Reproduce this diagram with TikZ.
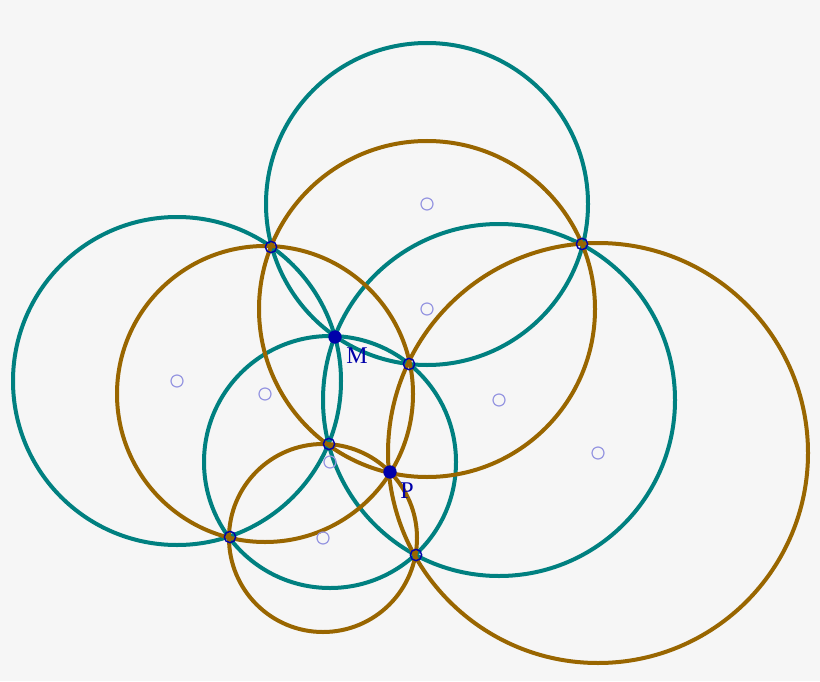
\documentclass[tikz,border=0pt]{standalone}
\usepackage{tikz}
\usepackage{fontspec}
\setmainfont{Liberation Serif}
\usetikzlibrary{positioning}

\definecolor{tealc}{RGB}{0,128,128}
\definecolor{brownc}{RGB}{153,102,0}
\definecolor{ptblue}{RGB}{0,0,170}
\definecolor{ctrblue}{RGB}{150,150,225}
\definecolor{bg}{RGB}{246,246,246}

\begin{document}
\begin{tikzpicture}[x=0.75pt,y=-0.75pt,
    tealcirc/.style={draw=tealc,line width=3pt},
    browncirc/.style={draw=brownc,line width=3pt},
    center/.style={circle,draw=ctrblue,line width=0.9pt,minimum size=9pt,inner sep=0pt},
    meet/.style={circle,draw=ptblue,line width=1.1pt,minimum size=8.5pt,inner sep=0pt},
    point/.style={circle,fill=ptblue,minimum size=10pt,inner sep=0pt},
    lbl/.style={text=ptblue,font=\fontsize{18}{20}\selectfont,inner sep=0pt}]
    \fill[bg] (0,0) rectangle (820,681);
    \useasboundingbox (0,0) rectangle (820,681);

    % centres
    \coordinate (t1) at (427,204);
    \coordinate (t2) at (177,381);
    \coordinate (t3) at (499,400);
    \coordinate (t4) at (330,462);
    \coordinate (b1) at (427,309);
    \coordinate (b2) at (265,394);
    \coordinate (b3) at (598,453);
    \coordinate (b4) at (323,538);

    % teal circles
    \draw[tealcirc] (t1) circle [radius=161];
    \draw[tealcirc] (t2) circle [radius=164];
    \draw[tealcirc] (t3) circle [radius=176];
    \draw[tealcirc] (t4) circle [radius=126];

    % brown circles
    \draw[browncirc] (b1) circle [radius=168];
    \draw[browncirc] (b2) circle [radius=148];
    \draw[browncirc] (b3) circle [radius=210];
    \draw[browncirc] (b4) circle [radius=94];

    \foreach \c in {t1,t2,t3,t4,b1,b2,b3,b4}
        \node[center] at (\c) {};

    \node[meet] (q1) at (271,247) {};
    \node[meet] (q2) at (582,244) {};
    \node[meet] (q3) at (409,364) {};
    \node[meet] (q4) at (329,444) {};
    \node[meet] (q5) at (230,537) {};
    \node[meet] (q6) at (416,555) {};

    \node[point] (M) at (335,337) {};
    \node[point] (P) at (390,472) {};
    \node[lbl] (Ml) at (357,356) {M};
    \node[lbl] (Pl) at (407,491) {P};
\end{tikzpicture}
\end{document}
